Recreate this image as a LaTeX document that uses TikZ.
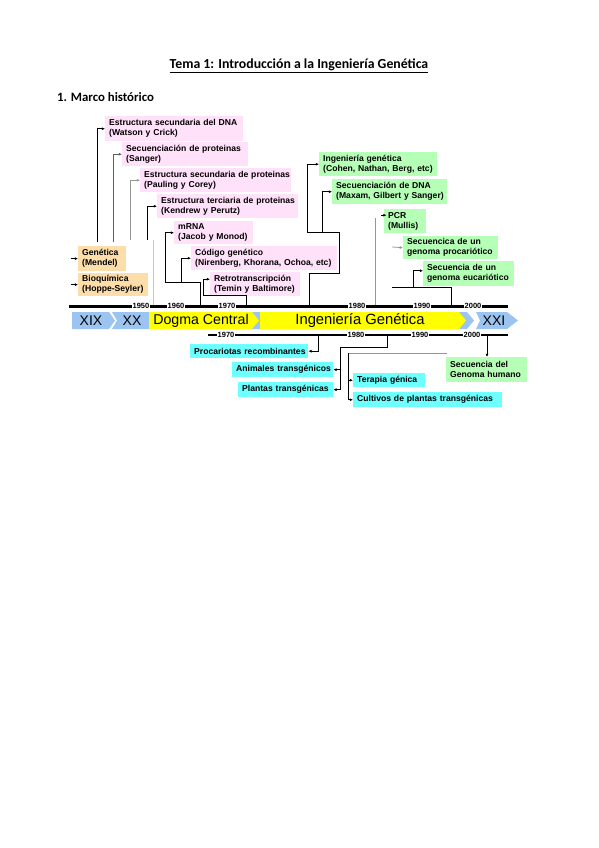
\documentclass[tikz,border=0pt]{standalone}
\usepackage{fontspec}
\setmainfont{Carlito}
\newfontfamily\arialf{Liberation Sans}
\usetikzlibrary{arrows.meta,calc}
\definecolor{pinkb}{RGB}{255,226,250}
\definecolor{orangeb}{RGB}{253,222,170}
\definecolor{greenb}{RGB}{182,255,182}
\definecolor{cyanb}{RGB}{110,255,255}
\definecolor{blueb}{RGB}{156,196,240}
\definecolor{yellowb}{RGB}{255,255,0}
\definecolor{lgray}{RGB}{150,150,150}
\definecolor{dgray}{RGB}{95,95,95}
\tikzset{
 bx/.style={inner xsep=4pt, inner ysep=0pt, align=left, font=\arialf\bfseries\fontsize{8.6}{10}\selectfont},
 pinkbox/.style={bx, fill=pinkb},
 orangebox/.style={bx, fill=orangeb},
 greenbox/.style={bx, fill=greenb},
 cyanbox/.style={bx, fill=cyanb},
 ln/.style={line width=0.75pt, draw=black},
 arr/.style={ln, -{Latex[length=3.2pt,width=3pt]}},
 yr/.style={font=\arialf\bfseries\fontsize{7.5}{8}\selectfont, fill=white, inner xsep=0.8pt, inner ysep=0.3pt},
 era/.style={font=\arialf\fontsize{14}{14}\selectfont, inner sep=0pt},
}
\newcommand\tlbox[7]{%
 \pgfmathsetmacro\tlw{#5-#3-8}%
 \node[#2, anchor=north west, minimum width={#5-#3}, minimum height={#6-#4}, text width=\tlw pt] (#1) at (#3,#4) {#7};}

\begin{document}
\begin{tikzpicture}[x=1pt,y=-1pt]
\useasboundingbox[fill=white] (0,0) rectangle (599,848);

% headings
\node[font=\bfseries\fontsize{13.8}{15}\selectfont, inner sep=0pt] (title) at (299,66) {\underline{Tema 1: Introducción a la Ingeniería Genética}};
\node[font=\bfseries\fontsize{12.8}{14}\selectfont, anchor=west, inner sep=0pt] (sec) at (57,97) {1. Marco histórico};

% pink boxes
\tlbox{dna}{pinkbox}{105}{116}{243}{141}{\mbox{Estructura secundaria del DNA}\\(Watson y Crick)}
\tlbox{sang}{pinkbox}{122}{142}{248}{166}{\mbox{Secuenciación de proteinas}\\(Sanger)}
\tlbox{paul}{pinkbox}{140}{168}{291}{192}{\mbox{Estructura secundaria de proteinas}\\(Pauling y Corey)}
\tlbox{kend}{pinkbox}{157}{194}{298}{218}{\mbox{Estructura terciaria de proteinas}\\(Kendrew y Perutz)}
\tlbox{mrna}{pinkbox}{174}{221}{253}{244}{mRNA\\(Jacob y Monod)}
\tlbox{cod}{pinkbox}{191}{246}{337}{270}{Código genético\\\mbox{(Nirenberg, Khorana, Ochoa, etc)}}
\tlbox{retro}{pinkbox}{210}{272}{300}{296}{\mbox{Retrotranscripción}\\\mbox{(Temin y Baltimore)}}

% orange boxes
\tlbox{gen}{orangebox}{78}{246}{126}{271}{Genética\\(Mendel)}
\tlbox{bio}{orangebox}{78}{273}{148}{296}{Bioquímica\\\mbox{(Hoppe-Seyler)}}

% green boxes
\tlbox{ing}{greenbox}{319}{152}{437}{176}{Ingeniería genética\\\mbox{(Cohen, Nathan, Berg, etc)}}
\tlbox{sdna}{greenbox}{332}{179}{447}{204}{Secuenciación de DNA\\\mbox{(Maxam, Gilbert y Sanger)}}
\tlbox{pcr}{greenbox}{384}{209}{426}{233}{PCR\\(Mullis)}
\tlbox{prok}{greenbox}{403}{236}{498}{259}{Secuencica de un\\\mbox{genoma procariótico}}
\tlbox{euk}{greenbox}{423}{261}{514}{286}{Secuencia de un\\\mbox{genoma eucariótico}}
\tlbox{gh}{greenbox}{446}{357}{527}{382}{Secuencia del\\\mbox{Genoma humano}}

% cyan boxes
\tlbox{prc}{cyanbox}{190}{344}{308}{358}{\mbox{Procariotas recombinantes}}
\tlbox{anim}{cyanbox}{232}{362}{333}{377}{\mbox{Animales transgénicos}}
\tlbox{plan}{cyanbox}{238}{382}{333}{397}{\mbox{Plantas transgénicas}}
\tlbox{ter}{cyanbox}{353}{373}{425}{387}{\mbox{Terapia génica}}
\tlbox{cult}{cyanbox}{353}{392}{502}{407}{\mbox{Cultivos de plantas transgénicas}}

% coordinates on the timelines
\coordinate (ta) at (69,306);  \coordinate (tb) at (508,306);
\coordinate (t53) at (153,306); \coordinate (t60) at (200,306);
\coordinate (t70) at (246,306); \coordinate (t73) at (309,306);
\coordinate (t85) at (375,306); \coordinate (t95) at (451,306);
\coordinate (ba) at (208,335);  \coordinate (bb) at (508,335);
\coordinate (b75) at (318,335); \coordinate (b83) at (387,335);
\coordinate (b00) at (487,335);

% top-left connectors
\coordinate (ga) at (71,258.5); \draw[arr] (ga) -- (gen.west);
\coordinate (bq) at (71,284.5); \draw[arr] (bq) -- (bio.west);
\coordinate (c1) at (97,242);  \draw[arr] (c1) |- (dna.west);
\coordinate (c2) at (113,242); \draw[arr, draw=dgray] (c2) |- (sang.west);
\coordinate (c3) at (130,240); \draw[arr, draw=lgray] (c3) |- (paul.west);
\coordinate (c4) at (147,240); \draw[arr] (c4) |- (kend.west);
\coordinate (c5) at (153,240); \draw[ln, draw=gray!45] (c5) -- (t53);
\draw[arr] (t60) -- (200,282) -- (165,282) |- (mrna.west);
\draw[arr] (181,282) |- (cod.west);
\draw[arr] (t70) -- (246,295) -- (203,295) |- ([yshift=5pt]retro.west);

% green connectors
\draw[arr] (t73) -- (309,273) -- (339,273) -- (339,232) -- (307,232) |- (ing.west);
\draw[arr] (322,232) |- (sdna.west);
\coordinate (c85) at (375,218); \draw[ln, draw=lgray] (c85) -- (t85);
\draw[arr] ([xshift=-3pt,yshift=6pt]pcr.west) -- ([xshift=2.5pt,yshift=6pt]pcr.west);
\coordinate (pk) at (392,247); \draw[arr, draw=lgray] (pk) -- (prok.west);
\draw[ln] (t95) -- (451,287) -- (392,287);
\draw[arr] (413,287) |- ([yshift=3pt]euk.west);

% bottom connectors
\draw[arr] (b75) |- (prc.east);
\coordinate (vbar) at (340,347);
\draw[ln] (b83) |- (vbar);
\draw[arr] (vbar) |- (plan.east);
\draw[arr] (anim.east -| vbar) -- (anim.east);
\coordinate (gh1) at (447,353); \coordinate (gh0) at (348,353);
\draw[ln, draw=lgray] (gh1) -- (gh0);
\draw[arr] (gh0) |- (cult.west);
\draw[arr] (ter.west -| gh0) -- (ter.west);
\draw[arr] (b00) -- (b00 |- gh.north);

% timelines
\draw[line width=3pt] (ta) -- (tb);
\node[yr] (y50) at (141,306) {1950};
\node[yr] (y60) at (176,306) {1960};
\node[yr] (y70) at (227,306) {1970};
\node[yr] (y80) at (357,306) {1980};
\node[yr] (y90) at (422,306) {1990};
\node[yr] (y00) at (473,306) {2000};
\draw[line width=1.8pt] (ba) -- (bb);
\node[yr] (z70) at (226,335) {1970};
\node[yr] (z80) at (356,335) {1980};
\node[yr] (z90) at (420,335) {1990};
\node[yr] (z00) at (472,335) {2000};

% era band
\fill[blueb] (72,312) -- (109,312) -- (115,320.5) -- (109,329) -- (72,329) -- cycle;
\fill[blueb] (112,312) -- (467,312) -- (474,320.5) -- (467,329) -- (112,329) -- (117,320.5) -- cycle;
\fill[yellowb] (149,312) -- (252,312) -- (259,320.5) -- (252,329) -- (149,329) -- cycle;
\fill[yellowb] (260,312) -- (459,312) -- (466,320.5) -- (459,329) -- (260,329) -- cycle;
\fill[blueb] (476,312) -- (507,312) -- (518,320.5) -- (507,329) -- (476,329) -- (480,320.5) -- cycle;
\node[era] (xix) at (91,320.5) {XIX};
\node[era] (xx) at (132,320.5) {XX};
\node[era, font=\arialf\fontsize{14.2}{15}\selectfont] (dog) at (201,320.5) {Dogma Central};
\node[era, font=\arialf\fontsize{14.8}{15}\selectfont] (ige) at (360,320.5) {Ingeniería Genética};
\node[era] (xxi) at (494,320.5) {XXI};
\end{tikzpicture}
\end{document}
